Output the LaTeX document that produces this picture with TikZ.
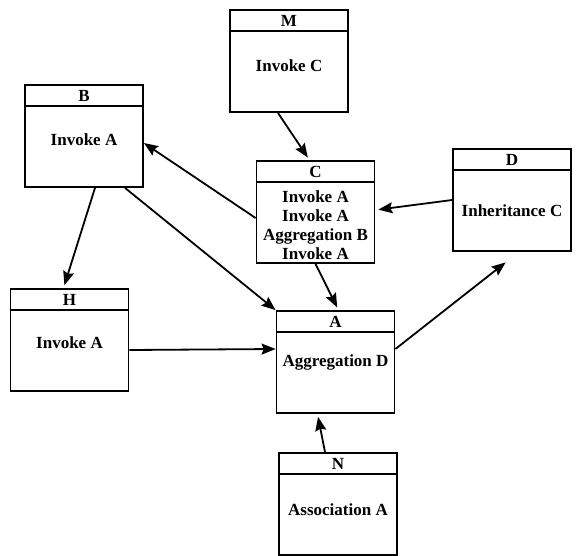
\documentclass[tikz,border=0pt]{standalone}
\usepackage{fontspec}
\setmainfont{Liberation Serif}
\usetikzlibrary{arrows.meta,positioning}

\begin{document}
\begin{tikzpicture}[x=1pt,y=-1pt,->,>={Stealth[length=14pt,width=11pt,inset=2pt]},
  shorten >=3pt,line width=1.8pt,
  class node/.style={rectangle,draw,minimum width=118pt,minimum height=102pt,inner sep=0pt},
  head node/.style={rectangle,draw,minimum width=118pt,minimum height=21pt,inner sep=0pt,
    font=\fontsize{17}{19}\selectfont\bfseries},
  label node/.style={align=center,inner sep=0pt,font=\fontsize{17}{19}\selectfont\bfseries}]

  \useasboundingbox (0,0) rectangle (576,555);

  \node[class node] (M) at (289,61) {};
  \node[head node,below=0pt of M.north] (Mh) {M};
  \node[label node] (Mt) at ([yshift=-34pt]Mh.south) {Invoke C};

  \node[class node] (B) at (84,136) {};
  \node[head node,below=0pt of B.north] (Bh) {B};
  \node[label node] (Bt) at ([yshift=-33pt]Bh.south) {Invoke A};

  \node[class node] (C) at (315.5,212) {};
  \node[head node,below=0pt of C.north] (Ch) {C};
  \node[label node] (Ct) at ([yshift=-42pt]Ch.south)
    {Invoke A\\Invoke A\\Aggregation B\\Invoke A};

  \node[class node] (D) at (512,200) {};
  \node[head node,below=0pt of D.north] (Dh) {D};
  \node[label node] (Dt) at ([yshift=-40pt]Dh.south) {Inheritance C};

  \node[class node] (H) at (69.5,340) {};
  \node[head node,below=0pt of H.north] (Hh) {H};
  \node[label node] (Ht) at ([yshift=-32pt]Hh.south) {Invoke A};

  \node[class node] (A) at (335.5,362) {};
  \node[head node,below=0pt of A.north] (Ah) {A};
  \node[label node] (At) at ([yshift=-30pt]Ah.south) {Aggregation D};

  \node[class node] (N) at (338,504) {};
  \node[head node,below=0pt of N.north] (Nh) {N};
  \node[label node] (Nt) at ([yshift=-35pt]Nh.south) {Association A};

  \path
    ([xshift=-11pt]M.south) edge ([xshift=-6pt]C.north)
    ([yshift=-6pt]C.west) edge[shorten >=0pt] ([yshift=-7pt]B.east)
    (D.west) edge ([yshift=2pt]C.east)
    ([xshift=11pt]B.south) edge ([xshift=-6pt]H.north)
    ([xshift=41pt]B.south) edge[shorten >=0pt] (A.north west)
    (C.south) edge ([xshift=3pt]A.north)
    ([yshift=-10pt]H.east) edge[shorten >=0pt] ([yshift=13pt]A.west)
    ([yshift=13pt]A.east) edge[shorten >=17pt] ([xshift=7pt]D.south)
    ([xshift=-13pt]N.north) edge ([xshift=-18pt]A.south)
    ;

\end{tikzpicture}
\end{document}
